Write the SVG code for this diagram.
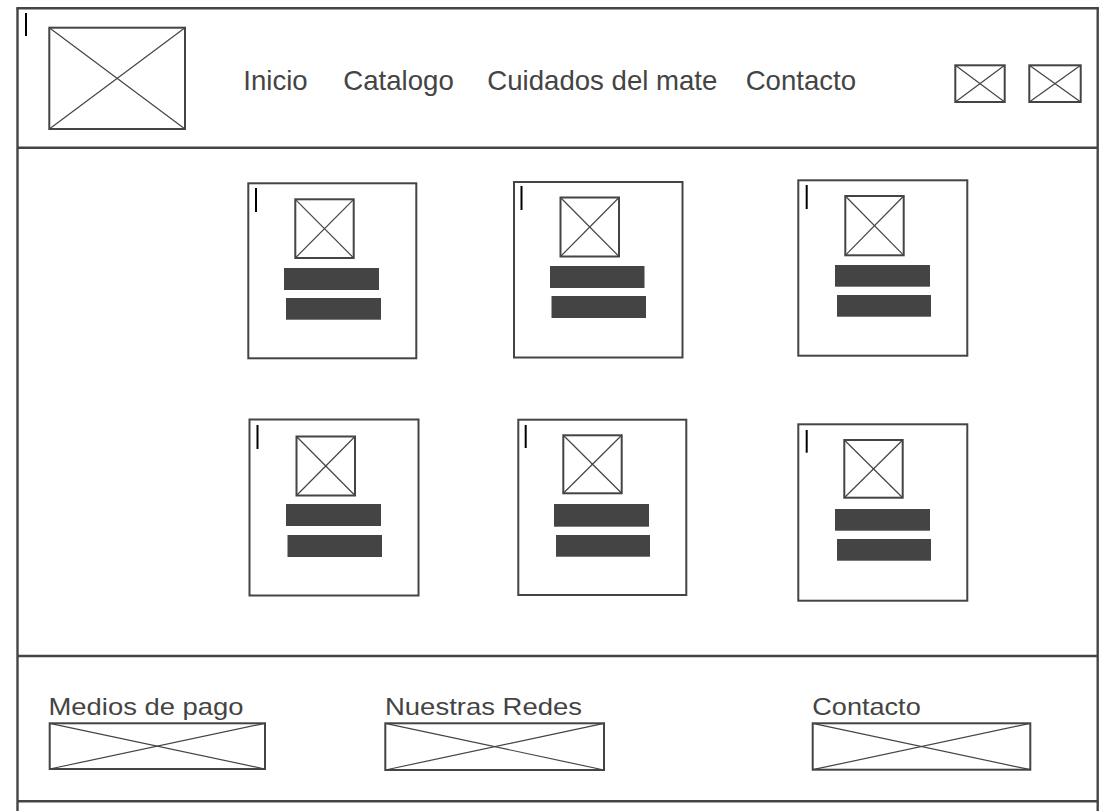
<svg xmlns="http://www.w3.org/2000/svg" width="1112" height="811" viewBox="0 0 1112 811">
<style>
.frame{fill:none;stroke:#444;stroke-width:2.4}
.box{fill:#fff;stroke:#444;stroke-width:2}
.x{stroke:#444;stroke-width:1.2;fill:none}
.bar{fill:#444}
.cur{stroke:#000;stroke-width:2}
.nav{font-family:"Liberation Sans",Arial,sans-serif;font-size:27.6px;fill:#444}
.ft{font-family:"Liberation Sans",Arial,sans-serif;font-size:24px;fill:#444}
</style>
<rect width="1112" height="811" fill="#fff"/>
<g id="frame">
<line class="frame" x1="17.5" y1="8.3" x2="17.5" y2="811"/>
<line class="frame" x1="1097.7" y1="8.3" x2="1097.7" y2="811"/>
<line class="frame" x1="16.3" y1="8.3" x2="1098.9" y2="8.3"/>
<line class="frame" x1="17.5" y1="147.8" x2="1097.7" y2="147.8"/>
<line class="frame" x1="17.5" y1="656" x2="1097.7" y2="656"/>
<line class="frame" x1="17.5" y1="801.3" x2="1097.7" y2="801.3"/>
<line class="cur" x1="26" y1="13" x2="26" y2="36"/>
</g>
<g id="logo">
<rect class="box" x="49.3" y="27.7" width="135.7" height="101.3"/>
<line class="x" x1="49.3" y1="27.7" x2="185" y2="129"/>
<line class="x" x1="185" y1="27.7" x2="49.3" y2="129"/>
</g>
<g id="nav">
<text class="nav" x="243.3" y="90">Inicio</text>
<text class="nav" x="343.3" y="90">Catalogo</text>
<text class="nav" x="487.3" y="90">Cuidados del mate</text>
<text class="nav" x="745.7" y="90">Contacto</text>
</g>
<g id="icon1">
<rect class="box" x="955.3" y="65.3" width="49.4" height="36.7"/>
<line class="x" x1="955.3" y1="65.3" x2="1004.7" y2="102"/>
<line class="x" x1="1004.7" y1="65.3" x2="955.3" y2="102"/>
</g>
<g id="icon2">
<rect class="box" x="1029.3" y="65.3" width="51.4" height="36.7"/>
<line class="x" x1="1029.3" y1="65.3" x2="1080.7" y2="102"/>
<line class="x" x1="1080.7" y1="65.3" x2="1029.3" y2="102"/>
</g>
<g id="card1">
<rect class="box" x="248.3" y="183.3" width="168" height="175"/>
<line class="cur" x1="256" y1="188" x2="256" y2="212"/>
<rect class="box" x="295.3" y="199.3" width="58.4" height="58.7"/>
<line class="x" x1="295.3" y1="199.3" x2="353.7" y2="258"/>
<line class="x" x1="353.7" y1="199.3" x2="295.3" y2="258"/>
<rect class="bar" x="284" y="268" width="95" height="22"/>
<rect class="bar" x="286" y="298" width="95" height="21.7"/>
</g>
<g id="card2">
<rect class="box" x="514" y="182" width="168.5" height="175.5"/>
<line class="cur" x1="521.5" y1="186" x2="521.5" y2="210"/>
<rect class="box" x="560.5" y="197.5" width="58.5" height="59"/>
<line class="x" x1="560.5" y1="197.5" x2="619" y2="256.5"/>
<line class="x" x1="619" y1="197.5" x2="560.5" y2="256.5"/>
<rect class="bar" x="550" y="266" width="94.5" height="22"/>
<rect class="bar" x="551.5" y="296" width="94.5" height="22"/>
</g>
<g id="card3">
<rect class="box" x="798.3" y="180.3" width="169" height="175.4"/>
<line class="cur" x1="806.7" y1="185" x2="806.7" y2="209"/>
<rect class="box" x="845.3" y="196" width="58.4" height="59.3"/>
<line class="x" x1="845.3" y1="196" x2="903.7" y2="255.3"/>
<line class="x" x1="903.7" y1="196" x2="845.3" y2="255.3"/>
<rect class="bar" x="835" y="265" width="95" height="21.7"/>
<rect class="bar" x="837" y="295" width="94" height="21.7"/>
</g>
<g id="card4">
<rect class="box" x="249.5" y="419.5" width="169" height="176"/>
<line class="cur" x1="257.5" y1="425" x2="257.5" y2="449"/>
<rect class="box" x="296.5" y="436.5" width="58.5" height="59"/>
<line class="x" x1="296.5" y1="436.5" x2="355" y2="495.5"/>
<line class="x" x1="355" y1="436.5" x2="296.5" y2="495.5"/>
<rect class="bar" x="286" y="504" width="95" height="22"/>
<rect class="bar" x="287.5" y="535" width="94.5" height="22"/>
</g>
<g id="card5">
<rect class="box" x="518.3" y="419.7" width="168" height="175.3"/>
<line class="cur" x1="525.7" y1="425" x2="525.7" y2="448"/>
<rect class="box" x="563.3" y="435.3" width="58.4" height="58"/>
<line class="x" x1="563.3" y1="435.3" x2="621.7" y2="493.3"/>
<line class="x" x1="621.7" y1="435.3" x2="563.3" y2="493.3"/>
<rect class="bar" x="554" y="504" width="95" height="22.7"/>
<rect class="bar" x="556" y="535" width="94" height="21.7"/>
</g>
<g id="card6">
<rect class="box" x="798.3" y="424.3" width="169" height="176.4"/>
<line class="cur" x1="806.7" y1="430" x2="806.7" y2="452.7"/>
<rect class="box" x="844.3" y="440" width="58.4" height="57.7"/>
<line class="x" x1="844.3" y1="440" x2="902.7" y2="497.7"/>
<line class="x" x1="902.7" y1="440" x2="844.3" y2="497.7"/>
<rect class="bar" x="835" y="509" width="95" height="21.7"/>
<rect class="bar" x="837" y="539" width="94" height="21.7"/>
</g>
<g id="pago">
<text class="ft" x="48.5" y="715" textLength="195" lengthAdjust="spacingAndGlyphs">Medios de pago</text>
<rect class="box" x="49.7" y="723.3" width="215.3" height="45.7"/>
<line class="x" x1="49.7" y1="723.3" x2="265" y2="769"/>
<line class="x" x1="265" y1="723.3" x2="49.7" y2="769"/>
</g>
<g id="redes">
<text class="ft" x="385" y="715" textLength="197" lengthAdjust="spacingAndGlyphs">Nuestras Redes</text>
<rect class="box" x="385.3" y="723.3" width="218.7" height="46.7"/>
<line class="x" x1="385.3" y1="723.3" x2="604" y2="770"/>
<line class="x" x1="604" y1="723.3" x2="385.3" y2="770"/>
</g>
<g id="contacto">
<text class="ft" x="812.3" y="715" textLength="108.4" lengthAdjust="spacingAndGlyphs">Contacto</text>
<rect class="box" x="812.7" y="723.3" width="217.6" height="46.4"/>
<line class="x" x1="812.7" y1="723.3" x2="1030.3" y2="769.7"/>
<line class="x" x1="1030.3" y1="723.3" x2="812.7" y2="769.7"/>
</g>
<g id="connectors"/>
</svg>
